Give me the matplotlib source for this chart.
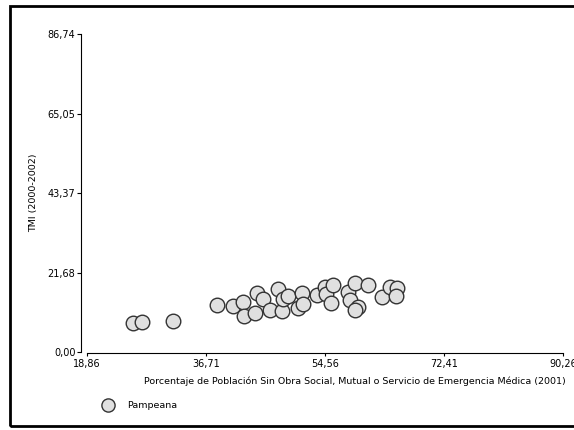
import matplotlib.pyplot as plt
from matplotlib.patches import Rectangle

# Pampeana: % sin obra social (2001) vs TMI (2000-2002)
sin_obra_social = [25.81, 27.06, 31.71, 38.31, 40.71, 42.21, 42.41, 44.10, 44.40, 45.30,
                   46.31, 47.46, 48.06, 48.21, 49.05, 50.55, 51.15, 51.21, 53.40, 54.56,
                   54.71, 55.46, 55.80, 58.05, 59.06, 61.05, 58.31, 59.55, 59.06, 63.06,
                   64.31, 65.31, 65.21]
tmi = [8.0, 8.2, 8.4, 12.7, 12.5, 13.6, 9.9, 10.7, 16.2, 14.4,
       11.5, 17.1, 11.3, 14.4, 15.3, 11.9, 16.0, 13.1, 15.5, 17.6,
       15.7, 13.4, 18.3, 16.4, 18.7, 18.3, 14.2, 12.4, 11.5, 15.1,
       17.8, 17.4, 15.3]

xticks = [18.86, 36.71, 54.56, 72.41, 90.26]
yticks = [0.00, 21.68, 43.37, 65.05, 86.74]


def fmt(v):
    return f"{v:.2f}".replace(".", ",")


fig = plt.figure(figsize=(5.74, 4.30), dpi=100)
ax = fig.add_axes([87 / 574, 78 / 430, 476 / 574, 318 / 430])

ax.scatter(sin_obra_social, tmi, s=110, facecolor="#e0e0e0", edgecolor="#333333",
           linewidth=1, zorder=3, clip_on=False)

ax.set_xlim(xticks[0], xticks[-1])
ax.set_ylim(yticks[0], yticks[-1])
ax.set_xticks(xticks)
ax.set_xticklabels([fmt(v) for v in xticks])
ax.set_yticks(yticks)
ax.set_yticklabels([fmt(v) for v in yticks])

for side in ("top", "right"):
    ax.spines[side].set_visible(False)
ax.spines["left"].set_position(("outward", 4.3))
ax.spines["bottom"].set_position(("outward", 0.7))
for side in ("left", "bottom"):
    ax.spines[side].set_linewidth(0.8)
ax.tick_params(axis="x", direction="out", length=2.2, width=0.8, labelsize=7,
               colors="black", pad=2.5)
ax.tick_params(axis="y", direction="out", length=3, width=0.8, labelsize=7,
               colors="black", pad=1)

ax.set_xlabel("Porcentaje de Población Sin Obra Social, Mutual o Servicio de Emergencia Médica (2001)",
              fontsize=6.8, labelpad=5, x=0.563)
ax.set_ylabel("TMI (2000-2002)", fontsize=6.8, labelpad=7)

# legend entry below the axis
fig.lines.append(plt.Line2D([108 / 574], [1 - 405 / 430], transform=fig.transFigure,
                            marker="o", markersize=9.5, markerfacecolor="#e0e0e0",
                            markeredgecolor="#333333", markeredgewidth=1, linestyle="none"))
fig.text(127 / 574, 1 - 405 / 430, "Pampeana", fontsize=6.8, va="center", ha="left")

# outer frame (right side runs past the canvas edge)
fig.patches.append(Rectangle((10 / 574, 1 - 426 / 430), 580 / 574, 420 / 430,
                             transform=fig.transFigure, fill=False,
                             edgecolor="black", linewidth=2, zorder=0))

fig.savefig("out.png", dpi=100)
